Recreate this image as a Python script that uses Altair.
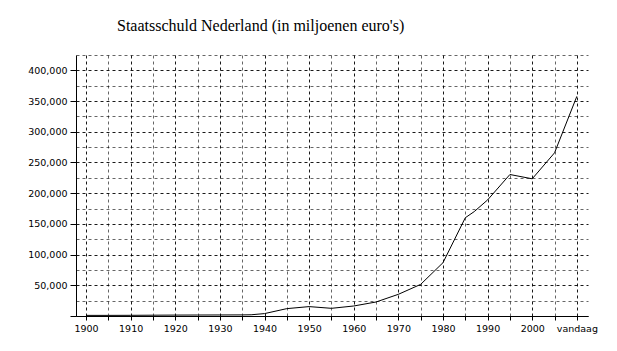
import altair as alt
import pandas as pd

years = [1900, 1905, 1910, 1915, 1920, 1925, 1930, 1935, 1937, 1940, 1945, 1950,
         1955, 1960, 1965, 1970, 1975, 1980, 1985, 1987, 1990, 1995, 2000, 2005, 2010]
debt = [1000, 1000, 1100, 1300, 1500, 1600, 1700, 1800, 2000, 3900, 12000, 15300,
        12500, 16300, 22800, 35300, 51500, 86800, 160000, 170000, 189000, 230400,
        223400, 265700, 357700]

x_ticks = list(range(1900, 2011, 5))
y_ticks = list(range(0, 425001, 25000))

df = pd.DataFrame({"jaar": years, "schuld": debt})

major_y = "datum.value % 50000 === 0"
major_x = "datum.value % 10 === 0"

chart = alt.Chart(df).mark_line(color="black", strokeWidth=1).encode(
    x=alt.X("jaar:Q",
            scale=alt.Scale(domain=[1897.75, 2012.5], nice=False, zero=False),
            axis=alt.Axis(title=None, values=x_ticks, grid=True,
                          gridColor="black", gridDash=[3, 3],
                          gridOpacity={"condition": {"test": major_x, "value": 0.9}, "value": 0.6},
                          labelExpr="datum.value === 2010 ? 'vandaag' : (datum.value % 10 === 0 ? '' + datum.value : '')",
                          labelOverlap=False, labelFlush=False,
                          labelFont="DejaVu Sans", labelFontSize=9.5, labelColor="black",
                          labelPadding=3, tickSize=4, tickColor="black",
                          domainColor="black")),
    y=alt.Y("schuld:Q",
            scale=alt.Scale(domain=[0, 425000], nice=False),
            axis=alt.Axis(title=None, values=y_ticks, grid=True, format=",d",
                          gridColor="black", gridDash=[3, 3],
                          gridOpacity={"condition": {"test": major_y, "value": 0.9}, "value": 0.6},
                          labelExpr="datum.value % 50000 === 0 && datum.value > 0 ? datum.label : ''",
                          tickOpacity={"condition": {"test": major_y, "value": 1}, "value": 0},
                          labelFont="DejaVu Sans", labelFontSize=9.5, labelColor="black",
                          labelPadding=3, tickSize=6, tickColor="black",
                          domainColor="black")),
).properties(
    width=512,
    height=261,
    title=alt.TitleParams("Staatsschuld Nederland (in miljoenen euro's)",
                          font="Liberation Serif", fontSize=16, fontWeight="normal",
                          color="black", anchor="start", frame="group", dx=41, offset=21),
    autosize=alt.AutoSizeParams(type="none"),
    padding={"left": 76, "top": 55, "right": 29, "bottom": 35},
    background="white",
).configure_view(stroke=None)

chart.save("out.html", embed_options={"renderer": "svg", "actions": False})
